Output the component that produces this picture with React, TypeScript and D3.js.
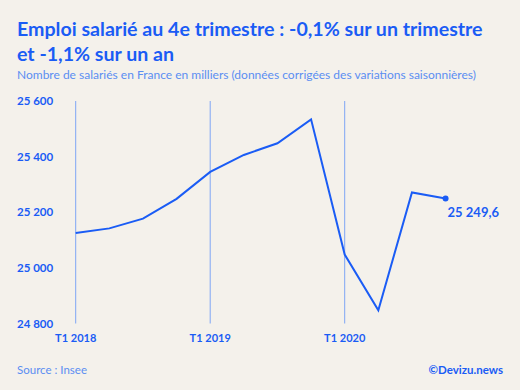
import { useEffect, useRef } from 'react'
import * as d3 from 'd3'

const quarters = [
  'T1 2018', 'T2 2018', 'T3 2018', 'T4 2018',
  'T1 2019', 'T2 2019', 'T3 2019', 'T4 2019',
  'T1 2020', 'T2 2020', 'T3 2020', 'T4 2020',
]
const salaries = [
  25125, 25142, 25177, 25248,
  25345, 25406, 25448, 25534,
  25048, 24848, 25271, 25249.6,
]
const yTicks = [24800, 25000, 25200, 25400, 25600]
const xTicks = ['T1 2018', 'T1 2019', 'T1 2020']
const lastLabel = '25 249,6'

const W = 520
const H = 390
const blue = '#1a5cf5'
const lightBlue = '#5b8ef2'
const font = 'Lato, "Noto Sans", sans-serif'

export default function App() {
  const ref = useRef<SVGSVGElement>(null)

  useEffect(() => {
    if (!ref.current) return
    const svg = d3.select(ref.current)
    svg.selectAll('*').remove()

    svg.append('rect').attr('width', W).attr('height', H).attr('fill', '#f4f1eb')

    // X scale on quarter index
    const x = d3.scaleLinear().domain([0, 4]).range([75.7, 210.2])
    const y = d3.scaleLinear().domain([24800, 25600]).range([323.5, 101])

    // vertical gridlines at T1 of each year
    xTicks.forEach((t) => {
      const i = quarters.indexOf(t)
      svg
        .append('line')
        .attr('x1', x(i))
        .attr('x2', x(i))
        .attr('y1', y(25600))
        .attr('y2', y(24800))
        .attr('stroke', '#7ea6f5')
        .attr('stroke-width', 1)
      svg
        .append('text')
        .attr('x', x(i))
        .attr('y', 342)
        .attr('text-anchor', 'middle')
        .style('font', `bold 11px ${font}`)
        .attr('fill', blue)
        .text(t)
    })

    // Y labels
    yTicks.forEach((v) => {
      svg
        .append('text')
        .attr('x', 17)
        .attr('y', y(v) + 4)
        .style('font', `bold 11.5px ${font}`)
        .attr('fill', blue)
        .text(d3.format(',')(v).replace(',', ' '))
    })

    // line
    const line = d3
      .line<number>()
      .x((_, i) => x(i))
      .y((d) => y(d))
    svg
      .append('path')
      .datum(salaries)
      .attr('d', line)
      .attr('fill', 'none')
      .attr('stroke', blue)
      .attr('stroke-width', 2)
      .attr('stroke-linejoin', 'miter')

    const li = salaries.length - 1
    svg
      .append('circle')
      .attr('cx', x(li))
      .attr('cy', y(salaries[li]))
      .attr('r', 3)
      .attr('fill', blue)
    svg
      .append('text')
      .attr('x', x(li) + 2)
      .attr('y', y(salaries[li]) + 19)
      .style('font', `bold 13px ${font}`)
      .attr('fill', blue)
      .text(lastLabel)

    // titles
    svg
      .append('text')
      .attr('x', 17)
      .attr('y', 36)
      .style('font', `bold 19.6px ${font}`)
      .attr('fill', blue)
      .text('Emploi salarié au 4e trimestre : -0,1% sur un trimestre')
    svg
      .append('text')
      .attr('x', 17)
      .attr('y', 61)
      .style('font', `bold 19.6px ${font}`)
      .attr('fill', blue)
      .text('et -1,1% sur un an')
    svg
      .append('text')
      .attr('x', 17)
      .attr('y', 79)
      .style('font', `12px ${font}`)
      .attr('fill', lightBlue)
      .text('Nombre de salariés en France en milliers (données corrigées des variations saisonnières)')

    // footer
    svg
      .append('text')
      .attr('x', 17)
      .attr('y', 374)
      .style('font', `11.5px ${font}`)
      .attr('fill', lightBlue)
      .text('Source : Insee')
    svg
      .append('text')
      .attr('x', 503)
      .attr('y', 374)
      .attr('text-anchor', 'end')
      .style('font', `bold 11.5px ${font}`)
      .attr('fill', blue)
      .text('©Devizu.news')
  }, [])

  return <svg ref={ref} width={W} height={H} style={{ position: 'absolute', left: 0, top: 0 }} />
}
